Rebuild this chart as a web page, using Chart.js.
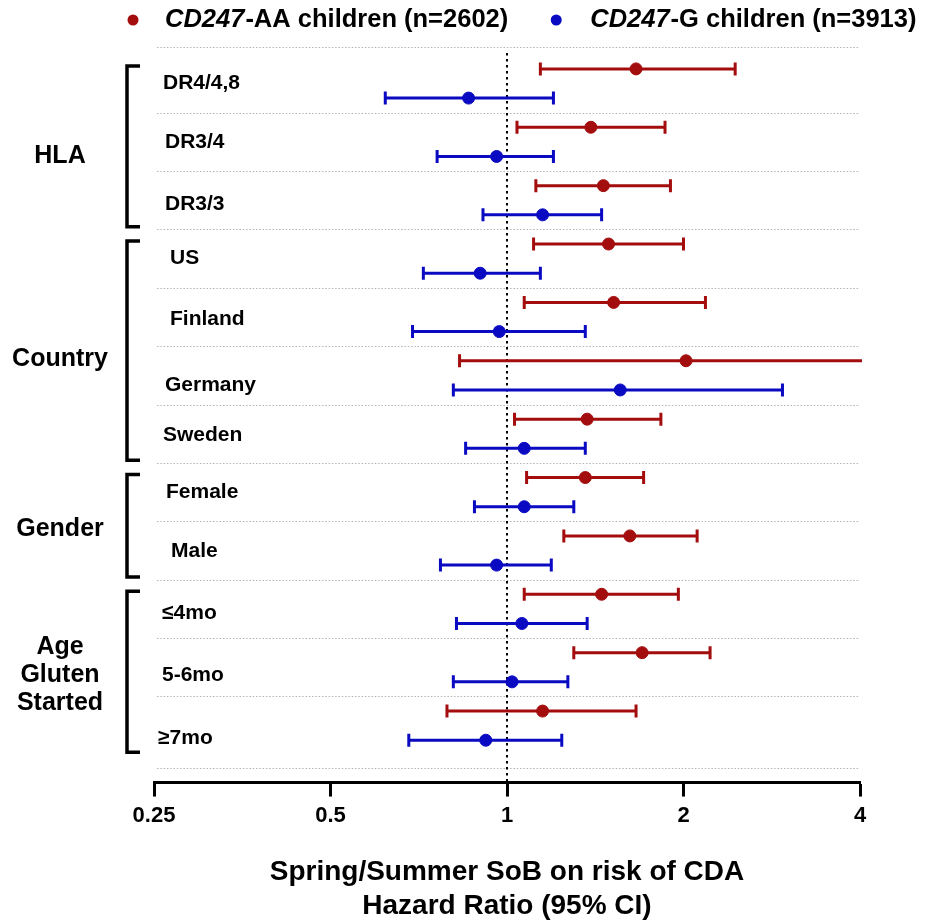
<!DOCTYPE html>
<html>
<head>
<meta charset="utf-8">
<title>Spring/Summer SoB on risk of CDA</title>
<script src="https://cdn.jsdelivr.net/npm/chart.js@4.4.0/dist/chart.umd.min.js"></script>
<style>
  html, body { margin: 0; padding: 0; background: #fff; }
  #wrap { width: 926px; height: 923px; }
</style>
</head>
<body>
<div id="wrap"><canvas id="forest" width="926" height="923"></canvas></div>
<script>
// subgroup rows, top to bottom
const subgroups = ['DR4/4,8', 'DR3/4', 'DR3/3', 'US', 'Finland', 'Germany', 'Sweden',
                   'Female', 'Male', '≤4mo', '5-6mo', '≥7mo'];
const groupNames = [['HLA'], ['Country'], ['Gender'], ['Age', 'Gluten', 'Started']];
const groupSizes = [3, 4, 2, 3];

const seriesGene = 'CD247';
const seriesLabels = ['-AA children (n=2602)', '-G children (n=3913)'];

// hazard ratios with 95% CI
const aaHR = [1.66, 1.39, 1.46, 1.49, 1.52, 2.02, 1.37, 1.36, 1.62, 1.45, 1.70, 1.15];
const aaLo = [1.14, 1.04, 1.12, 1.11, 1.07, 0.83, 1.03, 1.08, 1.25, 1.07, 1.30, 0.79];
const aaHi = [2.45, 1.86, 1.90, 2.00, 2.18, 4.60, 1.83, 1.71, 2.11, 1.96, 2.22, 1.66];

const gHR = [0.86, 0.96, 1.15, 0.90, 0.97, 1.56, 1.07, 1.07, 0.96, 1.06, 1.02, 0.92];
const gLo = [0.62, 0.76, 0.91, 0.72, 0.69, 0.81, 0.85, 0.88, 0.77, 0.82, 0.81, 0.68];
const gHi = [1.20, 1.20, 1.45, 1.14, 1.36, 2.95, 1.36, 1.30, 1.19, 1.37, 1.27, 1.24];

const xTicks = [0.25, 0.5, 1, 2, 4];

const RED = '#a30d0d';
const BLUE = '#0a0ac2';
const INK = '#000';
const FONT = '"Liberation Sans", Arial, Helvetica, sans-serif';

// small hand nudges so the row labels sit where the original put them (px)
const labelDx = [0, 2, 2, 7, 7, 2, 0, 3, 8, -1, -1, -5];
const labelDy = [0, 0, 4, 0, 2, 10, 1, 0, 1, 4, 8, 13];
const groupDy = [7, 6, 0, 1];

Chart.defaults.font.family = FONT;
Chart.defaults.color = INK;

// rows: AA on 2*i, G on 2*i + 1
function toPoints(values, offset) {
    return values.map((v, i) => ({ x: v, y: 2 * i + offset }));
}

// separators, reference line, CI whiskers, brackets, labels and legend
const forestDecor = {
    id: 'forestDecor',
    beforeDatasetsDraw(chart) {
        const { ctx, chartArea: area, scales: { x, y } } = chart;
        ctx.save();

        // dotted grey separators between subgroups
        const seps = [-0.75, 23.95];
        for (let i = 0; i < subgroups.length - 1; i++) seps.push(2 * i + 1.5);
        ctx.strokeStyle = '#b4b4b4';
        ctx.lineWidth = 1;
        ctx.setLineDash([1.5, 1.8]);
        seps.forEach(v => {
            const py = Math.round(y.getPixelForValue(v)) + 0.5;
            ctx.beginPath();
            ctx.moveTo(area.left + 3, py);
            ctx.lineTo(area.right, py);
            ctx.stroke();
        });

        // HR = 1 reference line
        const x1 = x.getPixelForValue(1);
        ctx.strokeStyle = INK;
        ctx.lineWidth = 2;
        ctx.setLineDash([2.5, 3.5]);
        ctx.beginPath();
        ctx.moveTo(x1, area.top + 6);
        ctx.lineTo(x1, area.bottom);
        ctx.stroke();
        ctx.setLineDash([]);

        // confidence intervals
        chart.data.datasets.forEach(ds => {
            ctx.strokeStyle = ds.borderColor;
            ctx.lineWidth = 3;
            ds.data.forEach((p, i) => {
                const py = y.getPixelForValue(p.y);
                const lo = ds.lo[i], hi = ds.hi[i];
                const pl = Math.max(x.getPixelForValue(lo), area.left);
                const ph = Math.min(x.getPixelForValue(hi), area.right + 2);
                ctx.beginPath();
                ctx.moveTo(pl, py);
                ctx.lineTo(ph, py);
                if (lo >= x.min) { ctx.moveTo(pl, py - 6.5); ctx.lineTo(pl, py + 6.5); }
                if (hi <= x.max) { ctx.moveTo(ph, py - 6.5); ctx.lineTo(ph, py + 6.5); }
                ctx.stroke();
            });
        });
        ctx.restore();
    },
    afterDraw(chart) {
        const { ctx, scales: { y } } = chart;
        const rowH = Math.abs(y.getPixelForValue(1) - y.getPixelForValue(0));
        ctx.save();
        ctx.fillStyle = INK;
        ctx.textBaseline = 'middle';

        // subgroup labels, between their two rows
        ctx.font = 'bold 21px ' + FONT;
        ctx.textAlign = 'left';
        subgroups.forEach((s, i) => {
            ctx.fillText(s, 163 + labelDx[i], y.getPixelForValue(2 * i + 0.5) + labelDy[i]);
        });

        // group brackets and names
        let start = 0;
        groupSizes.forEach((n, g) => {
            const top = y.getPixelForValue(2 * start) - 3;
            const bot = y.getPixelForValue(2 * (start + n) - 1) + 12;
            ctx.strokeStyle = INK;
            ctx.lineWidth = 3.5;
            ctx.beginPath();
            ctx.moveTo(140, top);
            ctx.lineTo(127, top);
            ctx.lineTo(127, bot);
            ctx.lineTo(140, bot);
            ctx.stroke();

            const lines = groupNames[g];
            const mid = (y.getPixelForValue(2 * start) + y.getPixelForValue(2 * (start + n) - 1)) / 2
                        + rowH * 0.25 + groupDy[g];
            ctx.font = 'bold 25px ' + FONT;
            ctx.textAlign = 'center';
            lines.forEach((t, k) => {
                ctx.fillText(t, 60, mid + (k - (lines.length - 1) / 2) * 28);
            });
            start += n;
        });

        // legend with italic gene name
        const italic = 'italic bold 25.5px ' + FONT;
        const plain = 'bold 25.5px ' + FONT;
        ctx.textAlign = 'left';
        let lx = 133;
        const ly = 20;
        chart.data.datasets.forEach((ds, k) => {
            ctx.fillStyle = ds.backgroundColor;
            ctx.beginPath();
            ctx.arc(lx, ly, 5.5, 0, Math.PI * 2);
            ctx.fill();
            ctx.fillStyle = INK;
            let tx = lx + (k === 0 ? 32 : 34);
            ctx.font = italic;
            ctx.fillText(seriesGene, tx, ly);
            tx += ctx.measureText(seriesGene).width + 1;
            ctx.font = plain;
            ctx.fillText(seriesLabels[k], tx, ly);
            lx = tx + ctx.measureText(seriesLabels[k]).width + 48;
        });
        ctx.restore();
    }
};

new Chart(document.getElementById('forest'), {
    type: 'scatter',
    data: {
        datasets: [
            {
                label: seriesGene + seriesLabels[0],
                data: toPoints(aaHR, 0),
                lo: aaLo, hi: aaHi,
                backgroundColor: RED, borderColor: RED,
                pointRadius: 6, pointHoverRadius: 6
            },
            {
                label: seriesGene + seriesLabels[1],
                data: toPoints(gHR, 1),
                lo: gLo, hi: gHi,
                backgroundColor: BLUE, borderColor: BLUE,
                pointRadius: 6, pointHoverRadius: 6
            }
        ]
    },
    options: {
        responsive: false,
        animation: false,
        events: [],
        layout: { padding: { left: 154, right: 66, top: 47, bottom: 0 } },
        plugins: { legend: { display: false }, tooltip: { enabled: false } },
        scales: {
            x: {
                type: 'logarithmic',
                min: 0.25,
                max: 4,
                afterBuildTicks: scale => { scale.ticks = xTicks.map(v => ({ value: v })); },
                ticks: {
                    callback: v => String(v),
                    autoSkip: false,
                    maxRotation: 0,
                    padding: 6,
                    color: INK,
                    font: { size: 22, weight: 'bold' }
                },
                grid: {
                    drawOnChartArea: false,
                    drawTicks: true,
                    tickLength: 14,
                    tickWidth: 3,
                    tickColor: INK
                },
                border: { display: true, color: INK, width: 3 },
                title: {
                    display: true,
                    text: ['Spring/Summer SoB on risk of CDA', 'Hazard Ratio (95% CI)'],
                    color: INK,
                    font: { size: 28, weight: 'bold', lineHeight: 1.215 },
                    padding: { top: 20, bottom: 0 }
                }
            },
            y: {
                type: 'linear',
                display: false,
                reverse: true,
                min: -0.75,
                max: 24.45
            }
        }
    },
    plugins: [forestDecor]
});
</script>
</body>
</html>
